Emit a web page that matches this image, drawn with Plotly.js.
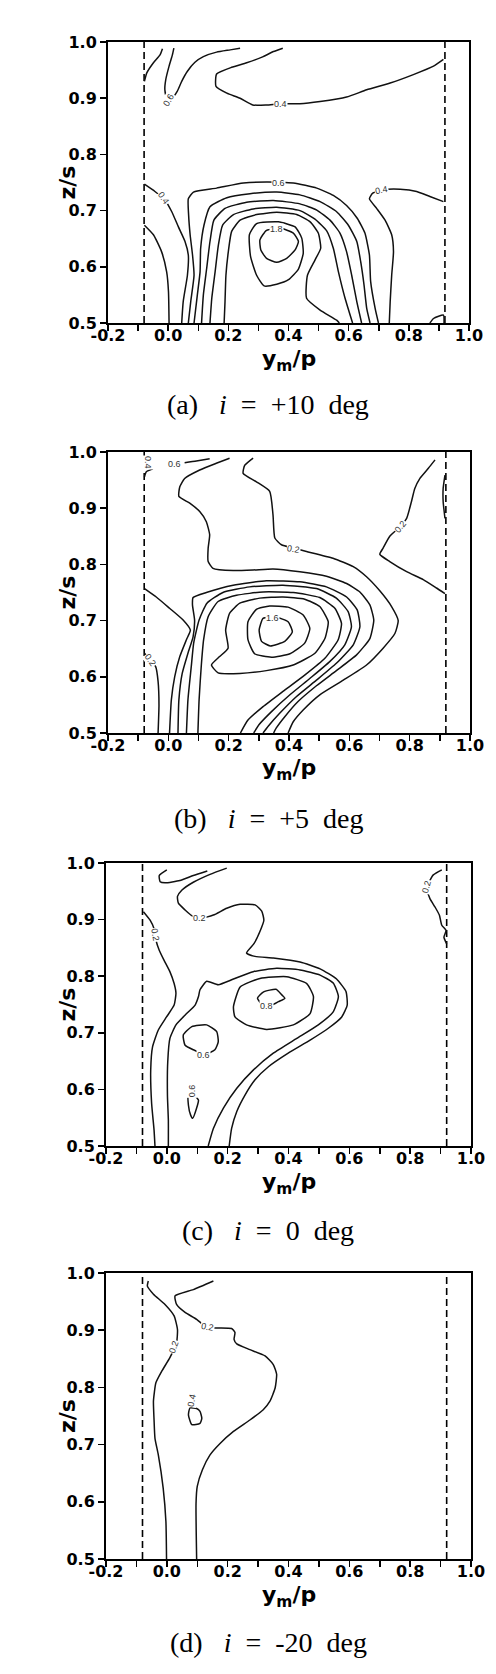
<!DOCTYPE html>
<html><head><meta charset="utf-8">
<script src="https://cdn.plot.ly/plotly-3.0.1.min.js"></script>
<style>html,body{margin:0;padding:0;background:#fff}#chart{width:496px;height:1674px}</style>
</head><body><div id="chart"></div>
<script>
// ---------- axis ticks ----------
const X_TICKS = [-0.2, 0.0, 0.2, 0.4, 0.6, 0.8, 1.0];
const X_TICK_TEXT = ['-0.2', '0.0', '0.2', '0.4', '0.6', '0.8', '1.0'];
const Y_TICKS = [0.5, 0.6, 0.7, 0.8, 0.9, 1.0];
const Y_TICK_TEXT = ['0.5', '0.6', '0.7', '0.8', '0.9', '1.0'];
const BLADE_EDGES = [-0.08, 0.92];   // dashed vertical lines (y_m/p)
const CAPTIONS = ['(a)', '(b)', '(c)', '(d)'];
const INCIDENCE = ['+10', '+5', '0', '-20'];

// ---------- panel (a) i = +10 deg : contour lines (y_m/p , z/s) ----------
const aC1X = [-0.079,-0.071,-0.049,-0.027,-0.019];
const aC1Y = [0.930,0.945,0.963,0.977,0.988];
const aTop06X = [0.019,0.014,0.003,-0.008,-0.011,-0.005,0.012,0.030,0.045,0.064,0.089,0.117,0.161,0.206,0.239];
const aTop06Y = [0.989,0.977,0.957,0.933,0.915,0.902,0.899,0.912,0.930,0.948,0.964,0.974,0.982,0.986,0.989];
const aTop04X = [0.381,0.350,0.316,0.261,0.211,0.161,0.159,0.195,0.239,0.281,0.327,0.372,0.438,0.505,0.593,0.660,0.738,0.815,0.882,0.915];
const aTop04Y = [0.989,0.983,0.974,0.963,0.955,0.943,0.921,0.909,0.900,0.888,0.888,0.890,0.890,0.894,0.902,0.915,0.927,0.942,0.957,0.969];
const aL02X = [-0.079,-0.049,-0.022,-0.005,0.001,0.003];
const aL02Y = [0.674,0.657,0.627,0.591,0.556,0.5];
const aL04X = [-0.079,-0.044,-0.011,0.012,0.034,0.056,0.067,0.064,0.050,0.045];
const aL04Y = [0.747,0.734,0.719,0.698,0.671,0.645,0.621,0.585,0.538,0.5];
const a06X = [0.067,0.075,0.086,0.081,0.073,0.068,0.067,0.084,0.161,0.250,0.327,0.416,0.494,0.549,0.593,0.629,0.654,0.669,0.673,0.688,0.699];
const a06Y = [0.5,0.538,0.585,0.621,0.657,0.692,0.721,0.733,0.740,0.749,0.751,0.749,0.740,0.727,0.709,0.686,0.660,0.621,0.574,0.526,0.5];
const a08X = [0.086,0.097,0.106,0.108,0.119,0.139,0.195,0.272,0.361,0.438,0.505,0.560,0.599,0.627,0.640,0.651,0.660,0.671];
const a08Y = [0.5,0.550,0.591,0.633,0.674,0.707,0.723,0.730,0.733,0.728,0.716,0.698,0.674,0.645,0.609,0.568,0.526,0.5];
const a10X = [0.111,0.117,0.128,0.139,0.152,0.189,0.261,0.350,0.438,0.494,0.538,0.571,0.593,0.610,0.627,0.643];
const a10Y = [0.5,0.550,0.597,0.645,0.683,0.704,0.715,0.718,0.712,0.701,0.683,0.660,0.627,0.585,0.538,0.5];
const a12X = [0.139,0.145,0.156,0.167,0.181,0.217,0.283,0.361,0.438,0.488,0.527,0.549,0.566,0.588,0.613];
const a12Y = [0.5,0.544,0.591,0.639,0.674,0.693,0.703,0.706,0.700,0.685,0.664,0.633,0.591,0.544,0.5];
const a14X = [0.186,0.189,0.192,0.200,0.211,0.239,0.294,0.361,0.427,0.472,0.499,0.507,0.488,0.463,0.460,0.505,0.560,0.569];
const a14Y = [0.5,0.538,0.585,0.627,0.663,0.683,0.693,0.697,0.693,0.680,0.660,0.633,0.612,0.585,0.544,0.523,0.505,0.5];
const a16X = [0.294,0.270,0.274,0.294,0.319,0.361,0.400,0.433,0.449,0.444,0.422,0.366,0.294];
const a16Y = [0.677,0.657,0.618,0.585,0.566,0.569,0.577,0.596,0.624,0.651,0.671,0.680,0.677];
const a18X = [0.327,0.305,0.308,0.327,0.361,0.394,0.422,0.433,0.416,0.377,0.327];
const a18Y = [0.665,0.648,0.630,0.615,0.608,0.615,0.630,0.645,0.660,0.668,0.665];
const aR04X = [0.915,0.870,0.826,0.771,0.715,0.680,0.669,0.693,0.721,0.743,0.749,0.743,0.738,0.735];
const aR04Y = [0.716,0.725,0.734,0.738,0.737,0.731,0.721,0.704,0.683,0.657,0.627,0.585,0.538,0.5];
const aHookX = [0.870,0.882,0.915,0.917];
const aHookY = [0.5,0.508,0.514,0.5];
const aLabText = ['0.6','0.4','0.4','0.6','1.8','0.4'];
const aLabX = [0.001,0.372,-0.016,0.366,0.361,0.710];
const aLabY = [0.897,0.890,0.722,0.750,0.668,0.737];
const aLabAngle = [-60,0,55,0,0,-10];

// ---------- panel (b) i = +5 deg ----------
const bSmallX = [-0.079,-0.073,-0.051];
const bSmallY = [0.956,0.965,0.970];
const bTop06X = [0.054,0.093,0.137];
const bTop06Y = [0.981,0.984,0.988];
const b02X = [0.281,0.253,0.248,0.292,0.336,0.347,0.353,0.375,0.414,0.458,0.546,0.613,0.657,0.701,0.740,0.762,0.751,0.712,0.657,0.580,0.502,0.447,0.414,0.397];
const b02Y = [0.989,0.976,0.962,0.947,0.930,0.888,0.847,0.835,0.829,0.823,0.811,0.796,0.778,0.753,0.725,0.700,0.677,0.651,0.621,0.594,0.568,0.541,0.520,0.500];
const b04X = [0.203,0.159,0.104,0.054,0.038,0.035,0.071,0.104,0.126,0.137,0.132,0.132,0.148,0.215,0.281,0.347,0.436,0.524,0.591,0.635,0.668,0.681,0.668,0.624,0.557,0.491,0.430,0.386,0.358,0.349];
const b04Y = [0.989,0.980,0.968,0.953,0.938,0.921,0.909,0.894,0.876,0.853,0.829,0.805,0.793,0.789,0.790,0.792,0.787,0.779,0.766,0.751,0.728,0.701,0.668,0.639,0.611,0.584,0.556,0.529,0.509,0.5];
const b06X = [0.032,0.035,0.046,0.065,0.082,0.087,0.080,0.082,0.126,0.215,0.325,0.436,0.524,0.591,0.626,0.635,0.613,0.557,0.491,0.425,0.369,0.331,0.314];
const b06Y = [0.5,0.559,0.606,0.642,0.671,0.701,0.728,0.741,0.750,0.763,0.771,0.769,0.760,0.742,0.719,0.689,0.657,0.624,0.594,0.565,0.535,0.512,0.5];
const b08X = [0.060,0.065,0.076,0.084,0.102,0.128,0.181,0.270,0.380,0.491,0.557,0.596,0.607,0.585,0.535,0.469,0.403,0.342,0.301,0.283];
const b08Y = [0.5,0.559,0.618,0.660,0.701,0.731,0.750,0.760,0.763,0.757,0.740,0.716,0.689,0.657,0.627,0.597,0.568,0.538,0.515,0.5];
const b10X = [0.098,0.102,0.109,0.117,0.132,0.165,0.226,0.314,0.414,0.502,0.552,0.574,0.563,0.519,0.452,0.380,0.314,0.264,0.239];
const b10Y = [0.5,0.559,0.618,0.666,0.707,0.734,0.745,0.751,0.750,0.741,0.722,0.695,0.666,0.633,0.603,0.574,0.547,0.523,0.5];
const b12X = [0.237,0.203,0.190,0.198,0.170,0.143,0.165,0.237,0.325,0.414,0.486,0.519,0.530,0.502,0.452,0.380,0.303,0.237];
const b12Y = [0.731,0.713,0.683,0.651,0.636,0.621,0.607,0.606,0.611,0.621,0.642,0.668,0.698,0.725,0.738,0.742,0.740,0.731];
const b14X = [0.292,0.264,0.264,0.286,0.342,0.403,0.452,0.469,0.447,0.397,0.336,0.292];
const b14Y = [0.720,0.698,0.666,0.641,0.635,0.641,0.660,0.686,0.710,0.724,0.726,0.720];
const b16X = [0.314,0.358,0.397,0.411,0.386,0.338,0.309,0.301,0.314];
const b16Y = [0.704,0.706,0.698,0.680,0.663,0.655,0.663,0.683,0.704];
const bL1X = [-0.079,-0.040,0.004,0.049,0.073,0.060,0.038,0.021,0.010,0.004];
const bL1Y = [0.757,0.742,0.722,0.701,0.683,0.666,0.636,0.600,0.559,0.5];
const bL02X = [-0.079,-0.060,-0.042,-0.034,-0.031,-0.034];
const bL02Y = [0.642,0.630,0.618,0.592,0.550,0.5];
const bVX = [0.884,0.862,0.834,0.817,0.806,0.790,0.768,0.734,0.712,0.701,0.734,0.790,0.845,0.889,0.917];
const bVY = [0.986,0.971,0.953,0.935,0.912,0.882,0.867,0.850,0.829,0.818,0.805,0.787,0.773,0.758,0.748];
const bWobX = [0.917,0.911,0.911,0.917];
const bWobY = [0.959,0.935,0.912,0.882];
const bLabText = ['0.4','0.6','0.2','0.2','0.2','1.6'];
const bLabX = [-0.067,0.021,0.414,-0.060,0.768,0.345];
const bLabY = [0.982,0.979,0.827,0.630,0.867,0.704];
const bLabAngle = [90,0,10,55,-50,0];

// ---------- panel (c) i = 0 deg ----------
const cHookX = [0.000,-0.025,-0.022,-0.006,0.043,0.087,0.133];
const cHookY = [0.988,0.978,0.967,0.965,0.969,0.978,0.986];
const c02X = [0.197,0.142,0.087,0.049,0.035,0.038,0.060,0.082,0.109,0.153,0.197,0.241,0.290,0.312,0.319,0.306,0.287,0.262,0.290,0.350,0.438,0.504,0.558,0.589,0.593,0.575,0.531,0.471,0.399,0.334,0.290,0.257,0.230,0.213,0.205];
const c02Y = [0.991,0.980,0.966,0.952,0.941,0.929,0.917,0.907,0.902,0.908,0.920,0.927,0.926,0.915,0.899,0.879,0.858,0.841,0.835,0.832,0.825,0.813,0.795,0.773,0.749,0.728,0.708,0.687,0.664,0.640,0.617,0.590,0.561,0.531,0.500];
const cL02X = [-0.077,-0.055,-0.042,-0.036,-0.025,-0.009,0.010,0.024,0.030,0.024,-0.001,-0.028,-0.047,-0.053,-0.050,-0.042,-0.039];
const cL02Y = [0.914,0.899,0.884,0.864,0.846,0.828,0.808,0.787,0.770,0.749,0.728,0.705,0.675,0.634,0.575,0.528,0.500];
const c04X = [0.005,0.005,0.002,0.003,0.010,0.030,0.065,0.093,0.104,0.109,0.131,0.169,0.219,0.284,0.361,0.438,0.504,0.547,0.564,0.547,0.498,0.427,0.350,0.284,0.230,0.186,0.153,0.136];
const c04Y = [0.5,0.546,0.590,0.649,0.690,0.714,0.734,0.749,0.764,0.776,0.791,0.785,0.795,0.808,0.814,0.811,0.802,0.788,0.764,0.737,0.714,0.690,0.664,0.634,0.602,0.567,0.531,0.5];
const c06X = [0.219,0.241,0.306,0.394,0.460,0.482,0.471,0.416,0.328,0.262,0.224,0.219];
const c06Y = [0.746,0.781,0.796,0.799,0.787,0.764,0.734,0.714,0.706,0.714,0.728,0.746];
const c08X = [0.298,0.317,0.359,0.378,0.388,0.367,0.345,0.312,0.298];
const c08Y = [0.761,0.772,0.777,0.767,0.761,0.755,0.749,0.751,0.761];
const c06LX = [0.054,0.082,0.131,0.164,0.169,0.158,0.125,0.087,0.060,0.054];
const c06LY = [0.696,0.711,0.714,0.702,0.684,0.670,0.662,0.670,0.678,0.696];
const c06BX = [0.071,0.071,0.078,0.085,0.098,0.104,0.093,0.071];
const c06BY = [0.590,0.572,0.555,0.549,0.567,0.581,0.588,0.590];
const cR02X = [0.904,0.876,0.860,0.858,0.865,0.882,0.896,0.904,0.918,0.911,0.920];
const cR02Y = [0.988,0.979,0.964,0.949,0.937,0.922,0.908,0.890,0.881,0.869,0.857];
const cLabText = ['0.2','0.2','0.8','0.6','0.6','0.2'];
const cLabX = [0.109,-0.039,0.328,0.122,0.082,0.853];
const cLabY = [0.902,0.872,0.747,0.661,0.598,0.958];
const cLabAngle = [0,80,0,0,-90,-75];

// ---------- panel (d) i = -20 deg ----------
const dL02X = [-0.061,-0.064,-0.044,-0.006,0.024,0.035,0.032,0.010,-0.017,-0.036,-0.044,-0.042,-0.039,-0.028,-0.012,-0.003,-0.001];
const dL02Y = [0.986,0.977,0.963,0.945,0.925,0.901,0.878,0.852,0.828,0.808,0.776,0.743,0.711,0.682,0.624,0.565,0.500];
const d02X = [0.153,0.087,0.027,0.032,0.060,0.098,0.131,0.169,0.213,0.224,0.221,0.230,0.273,0.323,0.350,0.361,0.356,0.339,0.317,0.273,0.219,0.175,0.142,0.117,0.100,0.096,0.098];
const d02Y = [0.986,0.971,0.960,0.945,0.931,0.919,0.905,0.904,0.903,0.896,0.884,0.876,0.866,0.855,0.840,0.823,0.799,0.776,0.761,0.743,0.723,0.702,0.682,0.656,0.627,0.597,0.500];
const d04X = [0.076,0.071,0.082,0.109,0.115,0.109,0.098,0.076];
const d04Y = [0.764,0.752,0.735,0.737,0.746,0.758,0.763,0.764];
const dLabText = ['0.2','0.2','0.4'];
const dLabX = [0.024,0.134,0.082];
const dLabY = [0.870,0.905,0.778];
const dLabAngle = [-70,10,-80];

// ---------- assemble ----------
const panels = [
  {xa:'x',  ya:'y',  lines:[[aC1X,aC1Y],[aTop06X,aTop06Y],[aTop04X,aTop04Y],[aL02X,aL02Y],[aL04X,aL04Y],[a06X,a06Y],[a08X,a08Y],[a10X,a10Y],[a12X,a12Y],[a14X,a14Y],[a16X,a16Y],[a18X,a18Y],[aR04X,aR04Y],[aHookX,aHookY]],
   lab:[aLabText,aLabX,aLabY,aLabAngle], top:42, bot:323, left:108, right:469, cap:404},
  {xa:'x2', ya:'y2', lines:[[bSmallX,bSmallY],[bTop06X,bTop06Y],[b02X,b02Y],[b04X,b04Y],[b06X,b06Y],[b08X,b08Y],[b10X,b10Y],[b12X,b12Y],[b14X,b14Y],[b16X,b16Y],[bL1X,bL1Y],[bL02X,bL02Y],[bVX,bVY],[bWobX,bWobY]],
   lab:[bLabText,bLabX,bLabY,bLabAngle], top:452, bot:733, left:108, right:470, cap:818},
  {xa:'x3', ya:'y3', lines:[[cHookX,cHookY],[c02X,c02Y],[cL02X,cL02Y],[c04X,c04Y],[c06X,c06Y],[c08X,c08Y],[c06LX,c06LY],[c06BX,c06BY],[cR02X,cR02Y]],
   lab:[cLabText,cLabX,cLabY,cLabAngle], top:863, bot:1146, left:106, right:471, cap:1230},
  {xa:'x4', ya:'y4', lines:[[dL02X,dL02Y],[d02X,d02Y],[d04X,d04Y]],
   lab:[dLabText,dLabX,dLabY,dLabAngle], top:1273, bot:1559, left:106, right:471, cap:1642}
];

const W = 496, H = 1674;
const traces = [], annotations = [];
const layout = {
  width: W, height: H, margin:{l:0,r:0,t:0,b:0},
  paper_bgcolor:'#fff', plot_bgcolor:'#fff', showlegend:false,
  annotations: annotations
};
const tickFont = {family:'DejaVu Sans', size:16, color:'#000', weight:'bold'};

panels.forEach((p, i) => {
  const n = i === 0 ? '' : String(i + 1);
  layout['xaxis' + n] = {
    domain:[p.left / W, p.right / W], anchor:'y' + n, range:[-0.2, 1.0],
    tickmode:'array', tickvals:X_TICKS, ticktext:X_TICK_TEXT,
    ticks:'outside', ticklen:6, tickwidth:1.5, tickcolor:'#000', ticklabelstandoff:-9,
    minor:{ticks:'outside', ticklen:6, tickwidth:1.5, tickcolor:'#000', dtick:0.1, tick0:0, showgrid:false},
    showline:true, mirror:true, linewidth:2, linecolor:'#000',
    showgrid:false, zeroline:false, tickfont:tickFont, fixedrange:true
  };
  layout['yaxis' + n] = {
    domain:[1 - p.bot / H, 1 - p.top / H], anchor:'x' + n, range:[0.5, 1.0],
    tickmode:'array', tickvals:Y_TICKS, ticktext:Y_TICK_TEXT,
    ticks:'outside', ticklen:6, tickwidth:1.5, tickcolor:'#000',
    showline:true, mirror:true, linewidth:2, linecolor:'#000',
    showgrid:false, zeroline:false, tickfont:tickFont, fixedrange:true
  };
  BLADE_EDGES.forEach(e => traces.push({
    type:'scatter', mode:'lines', x:[e, e], y:[0.5, 1.0], xaxis:p.xa, yaxis:p.ya,
    line:{color:'#000', width:1.6, dash:'7px,4px'}, hoverinfo:'skip'
  }));
  p.lines.forEach(([xs, ys]) => traces.push({
    type:'scatter', mode:'lines', x:xs, y:ys, xaxis:p.xa, yaxis:p.ya,
    line:{color:'#111', width:1.5, shape:'spline', smoothing:0.5}, hoverinfo:'skip'
  }));
  const [t, lx, ly, la] = p.lab;
  t.forEach((s, k) => annotations.push({
    text:s, x:lx[k], y:ly[k], xref:p.xa, yref:p.ya, showarrow:false,
    textangle:la[k], bgcolor:'#fff', borderpad:0,
    font:{family:'Liberation Sans', size:9, color:'#333'}
  }));
  const cx = (p.left + p.right) / 2;
  annotations.push({
    text:'y<sub>m</sub>/p', xref:'paper', yref:'paper', x:cx / W, y:1 - (p.bot + 37) / H,
    xanchor:'center', yanchor:'middle', showarrow:false,
    font:{family:'DejaVu Sans', size:22, color:'#000', weight:'bold'}
  });
  annotations.push({
    text:'z/s', xref:'paper', yref:'paper', x:67 / W, y:1 - ((p.top + p.bot) / 2) / H,
    xanchor:'center', yanchor:'middle', showarrow:false, textangle:-90,
    font:{family:'DejaVu Sans', size:22, color:'#000', weight:'bold'}
  });
  const s3 = '\u00a0\u00a0\u00a0', s2 = '\u00a0\u00a0';
  annotations.push({
    text:CAPTIONS[i] + s3 + '<i>i</i>' + s2 + '=' + s2 + INCIDENCE[i] + s2 + 'deg',
    xref:'paper', yref:'paper', x:268 / W, y:1 - p.cap / H,
    xanchor:'center', yanchor:'middle', showarrow:false,
    font:{family:'Liberation Serif', size:28, color:'#000'}
  });
});

Plotly.newPlot('chart', traces, layout, {staticPlot:true, displayModeBar:false});
</script>
</body></html>
